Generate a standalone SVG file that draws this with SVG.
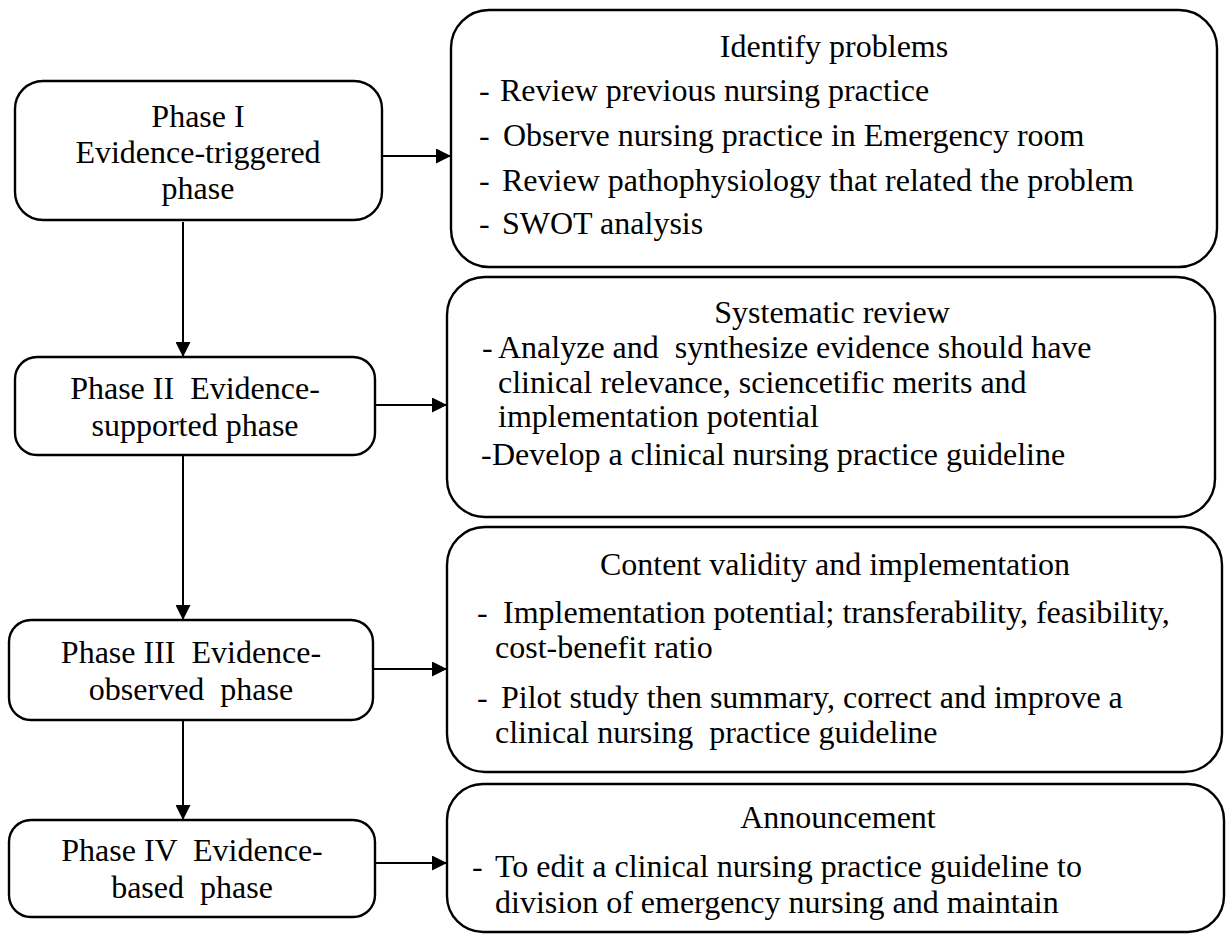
<svg xmlns="http://www.w3.org/2000/svg" width="1229" height="934" viewBox="0 0 1229 934">
<style>
  .box { fill: #ffffff; stroke: #000000; stroke-width: 2.4; }
  .conn { stroke: #000000; stroke-width: 2; fill: none; }
  text { font-family: "Liberation Serif", "Times New Roman", serif; font-size: 32px; fill: #000000; }
  .c { text-anchor: middle; }
</style>
<defs>
  <marker id="ah" markerUnits="userSpaceOnUse" markerWidth="15" markerHeight="15" refX="15" refY="7.5" orient="auto">
    <path d="M0,0 L15,7.5 L0,15 z" fill="#000000"/>
  </marker>
</defs>
<rect width="1229" height="934" fill="#ffffff"/>

<g id="connectors">
  <line class="conn" x1="382" y1="156" x2="451" y2="156" marker-end="url(#ah)"/>
  <line class="conn" x1="375" y1="405" x2="447" y2="405" marker-end="url(#ah)"/>
  <line class="conn" x1="373" y1="669" x2="447" y2="669" marker-end="url(#ah)"/>
  <line class="conn" x1="375" y1="863" x2="447" y2="863" marker-end="url(#ah)"/>
  <line class="conn" x1="183" y1="222" x2="183" y2="357" marker-end="url(#ah)"/>
  <line class="conn" x1="183" y1="455" x2="183" y2="620" marker-end="url(#ah)"/>
  <line class="conn" x1="183" y1="720" x2="183" y2="820" marker-end="url(#ah)"/>
</g>

<g id="phase1">
  <rect class="box" x="15" y="81" width="367" height="139" rx="28"/>
  <text class="c" x="198" y="127">Phase I</text>
  <text class="c" x="198" y="163">Evidence-triggered</text>
  <text class="c" x="198" y="199">phase</text>
</g>
<g id="phase2">
  <rect class="box" x="15" y="357" width="360" height="98" rx="22"/>
  <text class="c" x="195" y="399" xml:space="preserve">Phase II  Evidence-</text>
  <text class="c" x="195" y="436">supported phase</text>
</g>
<g id="phase3">
  <rect class="box" x="9" y="620" width="364" height="100" rx="22"/>
  <text class="c" x="191" y="663" xml:space="preserve">Phase III  Evidence-</text>
  <text class="c" x="191" y="700" xml:space="preserve">observed  phase</text>
</g>
<g id="phase4">
  <rect class="box" x="9" y="820" width="366" height="97" rx="22"/>
  <text class="c" x="192" y="861" xml:space="preserve">Phase IV  Evidence-</text>
  <text class="c" x="192" y="898" xml:space="preserve">based  phase</text>
</g>

<g id="identify">
  <rect class="box" x="451" y="10" width="766" height="257" rx="38"/>
  <text class="c" x="834" y="57">Identify problems</text>
  <text x="479" y="101">-</text><text x="500" y="101">Review previous nursing practice</text>
  <text x="479" y="146">-</text><text x="503" y="146">Observe nursing practice in Emergency room</text>
  <text x="479" y="191">-</text><text x="502" y="191">Review pathophysiology that related the problem</text>
  <text x="479" y="234">-</text><text x="502" y="234">SWOT analysis</text>
</g>
<g id="systematic">
  <rect class="box" x="447" y="277" width="768" height="240" rx="38"/>
  <text class="c" x="832" y="323">Systematic review</text>
  <text x="482" y="358">-</text><text x="498" y="358" xml:space="preserve">Analyze and  synthesize evidence should have</text>
  <text x="498" y="393">clinical relevance, sciencetific merits and</text>
  <text x="498" y="427">implementation potential</text>
  <text x="481" y="465">-</text><text x="492" y="465">Develop a clinical nursing practice guideline</text>
</g>
<g id="content">
  <rect class="box" x="447" y="527" width="775" height="245" rx="38"/>
  <text class="c" x="835" y="575">Content validity and implementation</text>
  <text x="477" y="623">-</text><text x="503" y="623">Implementation potential; transferability, feasibility,</text>
  <text x="495" y="658">cost-benefit ratio</text>
  <text x="477" y="708">-</text><text x="501" y="708">Pilot study then summary, correct and improve a</text>
  <text x="495" y="743" xml:space="preserve">clinical nursing  practice guideline</text>
</g>
<g id="announcement">
  <rect class="box" x="447" y="784" width="777" height="148" rx="36"/>
  <text class="c" x="838" y="828">Announcement</text>
  <text x="472" y="877">-</text><text x="495" y="877">To edit a clinical nursing practice guideline to</text>
  <text x="495" y="913">division of emergency nursing and maintain</text>
</g>
</svg>
